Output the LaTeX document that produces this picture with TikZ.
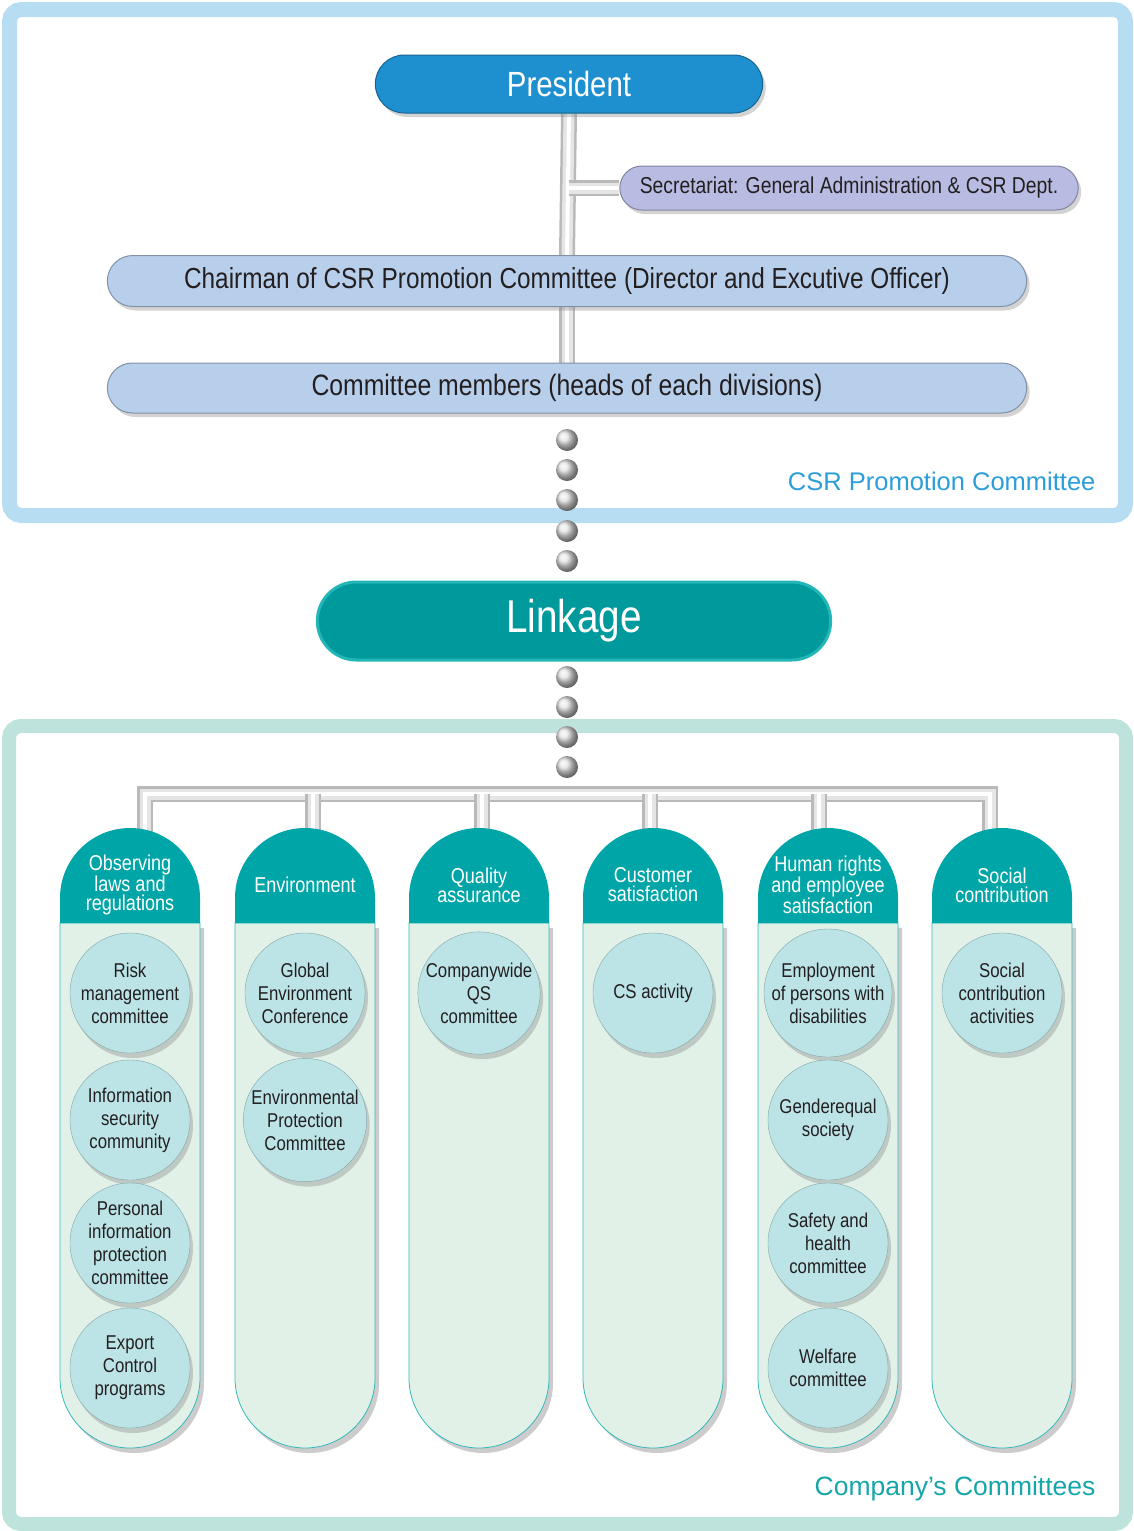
\documentclass[tikz,border=0pt]{standalone}
\usepackage{fontspec}
\setmainfont{Liberation Sans}[FakeStretch=0.84]
\newfontfamily\widefont{Liberation Sans}
\usetikzlibrary{shapes.misc,shadows,backgrounds,positioning}

\definecolor{topframe}{HTML}{B6DDF2}
\definecolor{botframe}{HTML}{BEE3DC}
\definecolor{presblue}{HTML}{1E8FCF}
\definecolor{secrfill}{HTML}{B9BCE2}
\definecolor{chairfill}{HTML}{B8CFEC}
\definecolor{linkteal}{HTML}{009A9C}
\definecolor{linkrim}{HTML}{22B6B6}
\definecolor{headteal}{HTML}{00A5A7}
\definecolor{bodygreen}{HTML}{E2F1E8}
\definecolor{bubblefill}{HTML}{BCE4E7}
\definecolor{darktext}{HTML}{231F20}
\definecolor{csrblue}{HTML}{2B9DD8}
\definecolor{compteal}{HTML}{16A6A9}

\tikzset{
  pill/.style={rounded rectangle, draw=#1!70!black, fill=#1, line width=1pt,
    drop shadow={opacity=0.35, shadow xshift=3pt, shadow yshift=-4pt}},
  pipe/.style={line width=16pt, draw=gray!55,
    postaction={draw=gray!20, line width=11pt},
    postaction={draw=white, line width=4pt}},
  dot/.style={circle, inner sep=0pt, minimum size=22pt, shading=ball, ball color=gray!22},
  bubble/.style={circle, minimum size=120pt, inner sep=0pt, fill=bubblefill, draw=gray!60!teal!70,
    text=darktext, align=center, font=\fontsize{20}{23}\selectfont,
    drop shadow={opacity=0.35, shadow xshift=3pt, shadow yshift=-5pt}},
  headtext/.style={text=white, align=center, font=\fontsize{21.5}{19}\selectfont},
}

\begin{document}
\begin{tikzpicture}[x=1pt,y=-1pt]
\useasboundingbox (0,0) rectangle (1134,1531);

%the two frames
\draw[line width=15pt, topframe, rounded corners=12pt] (9.5,9.5) rectangle (1125.5,515.5);
\draw[line width=14pt, botframe, rounded corners=12pt] (9,726) rectangle (1126,1524);

%CSR promotion committee
\node[pill=presblue, minimum width=394pt, minimum height=58pt, text=white,
  font=\fontsize{35}{35}\selectfont] (president) at (569,84) {President};
\node[pill=secrfill, minimum width=465pt, minimum height=44pt, text=darktext,
  font=\fontsize{23}{23}\selectfont] (secr) at (849,188) {Secretariat: General Administration \& CSR Dept.};
\node[pill=chairfill, minimum width=926pt, minimum height=51pt, text=darktext,
  font=\fontsize{29}{29}\selectfont] (chair) at (567,281) {Chairman of CSR Promotion Committee (Director and Excutive Officer)};
\node[pill=chairfill, minimum width=926pt, minimum height=50pt, text=darktext,
  font=\fontsize{29.5}{29.5}\selectfont] (members) at (567,388) {Committee members (heads of each divisions)};
\coordinate (tee) at (569,188);

\node[anchor=base east, text=csrblue, font=\widefont\fontsize{25.5}{25.5}\selectfont] (csrlabel) at (1099,490) {CSR Promotion Committee};

%dots and linkage
\foreach \y[count=\i] in {440,470,500,531,561}{
	\node[dot] (dotA\i) at (567,\y) {};
}
\node[rounded rectangle, fill=linkteal, draw=linkrim, line width=3pt, minimum width=520pt,
  minimum height=78pt, text=white, font=\fontsize{46}{46}\selectfont] (linkage) at (574,621) {Linkage};
\foreach \y[count=\i] in {677,707,737,767}{
	\node[dot] (dotB\i) at (567,\y) {};
}

\node[anchor=base east, text=compteal, font=\widefont\fontsize{26.5}{26.5}\selectfont] (complabel) at (1099,1495) {Company’s Committees};

%columns
\foreach \cx/\txt[count=\i] in {130/{Observing\\laws and\\regulations},305/Environment,479/{Quality\\assurance},
  653/{Customer\\satisfaction},828/{Human rights\\and employee\\satisfaction},1002/{Social\\contribution}}{
	\fill[bodygreen, draw=headteal!80, line width=0.8pt,
	  drop shadow={opacity=0.4, shadow xshift=4pt, shadow yshift=-5pt}]
	  (\cx-70,923) -- (\cx-70,1378) arc[start angle=180, end angle=0, radius=70] -- (\cx+70,923) -- cycle;
	\fill[headteal] (\cx-70,923) -- (\cx-70,898) arc[start angle=180, end angle=360, radius=70] -- (\cx+70,923) -- cycle;
	\node[headtext] (head\i) at (\cx,885) {\txt};
}

%circles in each column
\node[bubble] (risk) at (130,993) {Risk\\management\\committee};
\node[bubble] (infosec) at (130,1120) {Information\\security\\community};
\node[bubble] (personal) at (130,1243) {Personal\\information\\protection\\committee};
\node[bubble] (export) at (130,1368) {Export\\Control\\programs};
\node[bubble] (global) at (305,993) {Global\\Environment\\Conference};
\node[bubble] (envprot) at (305,1120) {Environmental\\Protection\\Committee};
\node[bubble] (qs) at (479,993) {Companywide\\QS\\committee};
\node[bubble] (cs) at (653,993) {CS activity};
\node[bubble] (employ) at (828,993) {Employment\\of persons with\\disabilities};
\node[bubble] (gender) at (828,1120) {Genderequal\\society};
\node[bubble] (safety) at (828,1243) {Safety and\\health\\committee};
\node[bubble] (welfare) at (828,1368) {Welfare\\committee};
\node[bubble] (social) at (1002,993) {Social\\contribution\\activities};

%pipes behind everything
\begin{scope}[on background layer]
\draw[pipe] (president.south) -- (chair.north);
\draw[pipe] (chair.south) -- (members.north);
\draw[pipe] (tee) -- (secr.west);
\foreach \x[count=\i] in {145,313,482,650,819,990}{
	\coordinate (bus\i) at (\x,794);
	\coordinate (drop\i) at (\x,840);
}
\draw[pipe] (drop1) -- (bus1) -- (bus6) -- (drop6);
\foreach \i in {2,...,5}{
	\draw[pipe] (bus\i) -- (drop\i);
}
\end{scope}
\end{tikzpicture}
\end{document}
